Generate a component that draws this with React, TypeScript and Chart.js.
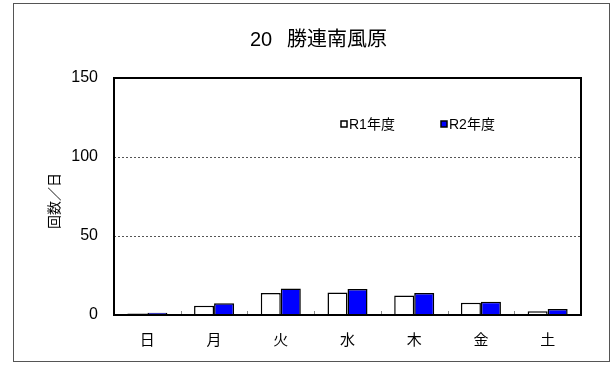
import React, { useEffect, useRef } from "react";
import { Chart, registerables } from "chart.js";

Chart.register(...registerables);

const categories = ["日", "月", "火", "水", "木", "金", "土"];
const seriesR1 = [1.0, 5.8, 13.9, 14.3, 12.4, 7.8, 2.3];
const seriesR2 = [1.5, 7.5, 16.8, 16.4, 13.9, 8.4, 3.8];
const seriesNames = ["R1年度", "R2年度"];
const yTicks = [0, 50, 100, 150];
const titleNumber = "20";
const titleName = "勝連南風原";
const yTitle = "回数／日";

const FONT = "'Liberation Sans', 'Noto Sans CJK JP', sans-serif";

const decor = {
  id: "decor",
  beforeDraw(chart: any) {
    const ctx = chart.ctx;
    ctx.save();
    ctx.fillStyle = "#ffffff";
    ctx.fillRect(0, 0, chart.width, chart.height);
    ctx.strokeStyle = "#555555";
    ctx.lineWidth = 1;
    ctx.strokeRect(13.5, 3.5, 596, 358);
    ctx.restore();
  },
  afterDatasetsDraw(chart: any) {
    const ctx = chart.ctx;
    const a = chart.chartArea;
    const xs = chart.scales.x;
    ctx.save();
    // category boundary tick marks
    ctx.strokeStyle = "#888888";
    ctx.lineWidth = 1;
    for (let i = 0; i < categories.length - 1; i++) {
      const px = Math.round((xs.getPixelForValue(i) + xs.getPixelForValue(i + 1)) / 2) + 0.5;
      ctx.beginPath();
      ctx.moveTo(px, a.bottom);
      ctx.lineTo(px, a.bottom - 4);
      ctx.stroke();
    }
    // plot border
    ctx.strokeStyle = "#000000";
    ctx.lineWidth = 2;
    ctx.strokeRect(a.left, a.top, a.right - a.left, a.bottom - a.top);
    // title
    ctx.fillStyle = "#000000";
    ctx.font = `20px ${FONT}`;
    ctx.textAlign = "left";
    ctx.textBaseline = "middle";
    ctx.fillText(titleNumber, 250, 40);
    ctx.fillText(titleName, 287, 40);
    // y title
    ctx.save();
    ctx.textAlign = "center";
    ctx.translate(55, 201);
    ctx.rotate(-Math.PI / 2);
    ctx.font = `14px ${FONT}`;
    ctx.fillText(yTitle, 0, 0);
    ctx.restore();
    // legend
    const colors = ["#ffffff", "#0000ff"];
    const lx = [341, 441];
    ctx.font = `14px ${FONT}`;
    ctx.textAlign = "left";
    for (let i = 0; i < 2; i++) {
      ctx.fillStyle = colors[i];
      ctx.fillRect(lx[i], 121, 6, 6);
      ctx.strokeStyle = "#000";
      ctx.lineWidth = 1.5;
      ctx.strokeRect(lx[i], 121, 6, 6);
      ctx.fillStyle = "#000";
      ctx.fillText(seriesNames[i], lx[i] + 8, 125);
    }
    ctx.restore();
  },
};

export default function App() {
  const ref = useRef<HTMLCanvasElement>(null);
  useEffect(() => {
    if (!ref.current) return;
    const chart = new Chart(ref.current, {
      type: "bar",
      data: {
        labels: categories,
        datasets: [
          {
            label: seriesNames[0],
            data: seriesR1,
            backgroundColor: "#ffffff",
            borderColor: "#000000",
            borderWidth: 1.5,
          },
          {
            label: seriesNames[1],
            data: seriesR2,
            backgroundColor: "#0000ff",
            borderColor: "#000000",
            borderWidth: 1.5,
          },
        ],
      },
      options: {
        animation: false,
        responsive: false,
        events: [],
        layout: { padding: { left: 0, top: 78, right: 31, bottom: 10 } },
        datasets: { bar: { categoryPercentage: 0.6, barPercentage: 1 } },
        plugins: { legend: { display: false }, tooltip: { enabled: false }, title: { display: false } },
        scales: {
          x: {
            afterFit: (s: any) => { s.height = 40; },
            grid: { display: false, drawTicks: false },
            border: { display: false },
            ticks: { color: "#000", font: { family: FONT, size: 15 }, padding: 17 },
          },
          y: {
            min: 0,
            max: 150,
            afterFit: (s: any) => { s.width = 114; },
            afterBuildTicks: (s: any) => { s.ticks = yTicks.map((v) => ({ value: v })); },
            grid: {
              drawTicks: false,
              color: (c: any) => (c.tick && (c.tick.value === 50 || c.tick.value === 100) ? "#555555" : "rgba(0,0,0,0)"),
              lineWidth: 1,
            },
            border: { display: false, dash: [2, 2] },
            ticks: { color: "#000", font: { family: FONT, size: 16 }, padding: 16 },
          },
        },
      },
      plugins: [decor],
    });
    return () => chart.destroy();
  }, []);
  return (
    <div style={{ position: "absolute", left: 0, top: 0, width: 612, height: 365 }}>
      <canvas ref={ref} width={612} height={365} style={{ width: 612, height: 365 }} />
    </div>
  );
}
